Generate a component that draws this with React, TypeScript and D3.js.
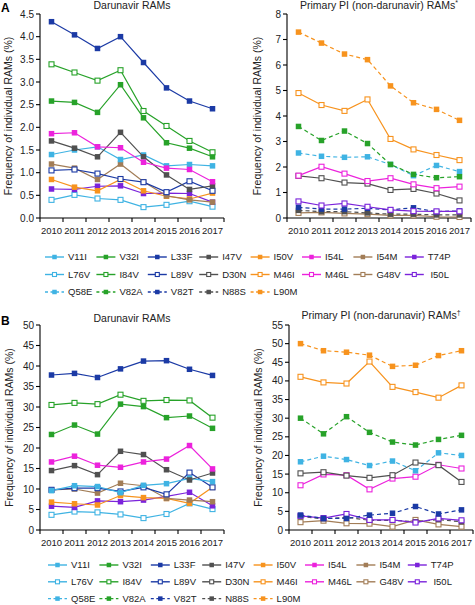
import React from 'react';
import * as d3 from 'd3';

const years = ['2010', '2011', '2012', '2013', '2014', '2015', '2016', '2017'];

// Panel A – Darunavir RAMs
const A_V11I = [1.40, 1.50, 1.57, 1.29, 1.39, 1.15, 1.18, 1.15];
const A_V32I = [2.58, 2.55, 2.33, 2.94, 2.21, 1.66, 1.54, 1.35];
const A_L33F = [4.33, 4.04, 3.74, 4.00, 3.43, 2.87, 2.58, 2.41];
const A_I47V = [1.70, 1.54, 1.35, 1.89, 1.35, 0.95, 0.63, 0.71];
const A_I50V = [0.85, 0.68, 0.60, 0.85, 0.60, 0.48, 0.42, 0.55];
const A_I54L = [1.86, 1.88, 1.57, 1.55, 1.23, 1.10, 1.07, 0.80];
const A_I54M = [1.19, 1.10, 0.85, 1.19, 0.80, 0.49, 0.40, 0.35];
const A_T74P = [0.64, 0.63, 0.70, 0.71, 0.54, 0.55, 0.54, 0.35];
const A_L76V = [0.40, 0.51, 0.43, 0.40, 0.24, 0.29, 0.37, 0.25];
const A_I84V = [3.39, 3.21, 3.03, 3.26, 2.36, 2.03, 1.70, 1.45];
const A_L89V = [1.05, 1.07, 0.98, 0.86, 0.79, 0.57, 0.81, 0.60];

// Panel A – Primary PI (non-darunavir) RAMs
const A_D30N = [1.65, 1.56, 1.39, 1.35, 1.10, 1.14, 0.96, 0.69];
const A_M46I = [4.90, 4.43, 4.20, 4.65, 3.10, 2.69, 2.47, 2.27];
const A_M46L = [1.66, 2.01, 1.74, 1.45, 1.56, 1.32, 1.17, 1.23];
const A_G48V = [0.20, 0.22, 0.18, 0.15, 0.10, 0.10, 0.05, 0.04];
const A_I50L = [0.65, 0.49, 0.57, 0.44, 0.32, 0.27, 0.26, 0.26];
const A_Q58E = [2.55, 2.42, 2.38, 2.40, 2.10, 1.66, 2.06, 1.82];
const A_V82A = [3.59, 3.04, 3.41, 2.92, 2.10, 1.71, 1.58, 1.62];
const A_V82T = [0.42, 0.35, 0.35, 0.38, 0.32, 0.40, 0.25, 0.28];
const A_N88S = [0.30, 0.25, 0.25, 0.20, 0.15, 0.15, 0.12, 0.12];
const A_L90M = [7.29, 6.86, 6.43, 6.21, 5.18, 4.52, 4.26, 3.83];

// Panel B – Darunavir RAMs
const B_V11I = [9.6, 10.8, 10.6, 9.1, 10.9, 11.3, 12.6, 11.8];
const B_V32I = [23.3, 25.6, 23.4, 30.7, 30.1, 27.4, 27.8, 24.8];
const B_L33F = [37.8, 38.2, 37.2, 39.3, 41.2, 41.3, 39.2, 37.7];
const B_I47V = [14.5, 15.7, 13.5, 19.2, 18.4, 14.7, 12.2, 13.9];
const B_I50V = [6.8, 6.4, 6.1, 8.4, 7.9, 7.7, 6.5, 10.4];
const B_I54L = [16.6, 18.0, 15.8, 15.3, 16.6, 17.3, 20.6, 14.9];
const B_I54M = [9.8, 10.0, 9.0, 11.4, 10.8, 7.7, 7.3, 6.9];
const B_T74P = [5.8, 5.5, 7.1, 6.9, 7.3, 8.2, 9.2, 5.9];
const B_L76V = [3.7, 4.5, 4.3, 3.8, 2.9, 3.9, 6.5, 5.1];
const B_I84V = [30.5, 31.0, 30.7, 33.0, 31.5, 31.7, 31.6, 27.4];
const B_L89V = [9.8, 10.2, 10.2, 9.4, 10.4, 8.7, 14.0, 10.4];

// Panel B – Primary PI (non-darunavir) RAMs
const B_D30N = [15.2, 15.5, 14.6, 14.0, 14.7, 18.1, 17.4, 12.9];
const B_M46I = [41.1, 39.6, 39.3, 45.2, 38.4, 37.0, 35.5, 38.8];
const B_M46L = [12.0, 14.9, 14.7, 10.9, 13.8, 14.3, 17.5, 16.5];
const B_G48V = [2.1, 2.5, 1.8, 1.7, 0.9, 2.7, 1.5, 0.9];
const B_I50L = [3.8, 3.2, 4.3, 2.7, 2.7, 2.0, 3.1, 2.6];
const B_Q58E = [18.3, 19.8, 18.9, 17.3, 18.5, 15.9, 20.7, 20.0];
const B_V82A = [30.0, 25.8, 30.4, 26.2, 23.6, 22.8, 24.3, 25.4];
const B_V82T = [4.0, 3.1, 3.1, 4.0, 4.5, 6.3, 4.3, 5.4];
const B_N88S = [3.6, 3.0, 3.4, 2.6, 2.6, 2.2, 2.8, 2.2];
const B_L90M = [50.0, 48.1, 47.7, 46.9, 43.9, 44.2, 46.8, 48.1];

const legendRow1 = ['V11I', 'V32I', 'L33F', 'I47V', 'I50V', 'I54L', 'I54M', 'T74P'];
const legendRow2 = ['L76V', 'I84V', 'L89V', 'D30N', 'M46I', 'M46L', 'G48V', 'I50L'];
const legendRow3 = ['Q58E', 'V82A', 'V82T', 'N88S', 'L90M'];

const C = {
  lightblue: '#3fb3e3',
  green: '#27a229',
  darkblue: '#1b3aa5',
  gray: '#505050',
  orange: '#f7931e',
  magenta: '#ec22dc',
  tan: '#a27d57',
  purple: '#7b23db',
};

type Style = { color: string; open: boolean; dashed: boolean };
const STYLE: Record<string, Style> = {
  V11I: { color: C.lightblue, open: false, dashed: false },
  V32I: { color: C.green, open: false, dashed: false },
  L33F: { color: C.darkblue, open: false, dashed: false },
  I47V: { color: C.gray, open: false, dashed: false },
  I50V: { color: C.orange, open: false, dashed: false },
  I54L: { color: C.magenta, open: false, dashed: false },
  I54M: { color: C.tan, open: false, dashed: false },
  T74P: { color: C.purple, open: false, dashed: false },
  L76V: { color: C.lightblue, open: true, dashed: false },
  I84V: { color: C.green, open: true, dashed: false },
  L89V: { color: C.darkblue, open: true, dashed: false },
  D30N: { color: C.gray, open: true, dashed: false },
  M46I: { color: C.orange, open: true, dashed: false },
  M46L: { color: C.magenta, open: true, dashed: false },
  G48V: { color: C.tan, open: true, dashed: false },
  I50L: { color: C.purple, open: true, dashed: false },
  Q58E: { color: C.lightblue, open: false, dashed: true },
  V82A: { color: C.green, open: false, dashed: true },
  V82T: { color: C.darkblue, open: false, dashed: true },
  N88S: { color: C.gray, open: false, dashed: true },
  L90M: { color: C.orange, open: false, dashed: true },
};

const FONT = '"Liberation Sans", Arial, Helvetica, sans-serif';

type Series = { name: string; values: number[] };

type PanelProps = {
  x0: number;
  yTop: number;
  yBottom: number;
  yMax: number;
  yTicks: number[];
  yFmt: (v: number) => string;
  title: string;
  sup: string;
  titleY: number;
  labelX: number;
  series: Series[];
};

function Marker({ x, y, st, size }: { x: number; y: number; st: Style; size: number }) {
  if (st.open) {
    const s = size - 0.5;
    return (
      <rect x={x - s / 2} y={y - s / 2} width={s} height={s} fill="#fff" stroke={st.color} strokeWidth={1.1} />
    );
  }
  return <rect x={x - size / 2} y={y - size / 2} width={size} height={size} fill={st.color} />;
}

function Panel(p: PanelProps) {
  const xs = d3.scaleBand<string>().domain(years).range([p.x0, p.x0 + 184]).padding(0);
  const ys = d3.scaleLinear().domain([0, p.yMax]).range([p.yBottom, p.yTop]);
  const bw = xs.bandwidth();
  const line = d3
    .line<number>()
    .x((_, i) => (xs(years[i]) as number) + bw / 2)
    .y((v) => ys(v));
  const boundaries = d3.range(0, years.length + 1).map((i) => p.x0 + i * bw);
  const y0 = ys(0);
  const cx = p.x0 + 92;
  return (
    <g>
      <text x={cx} y={p.titleY} textAnchor="middle" fontSize={10.5} fontFamily={FONT} fill="#222">
        {p.title}
        <tspan fontSize={7} dy={-4}>{p.sup}</tspan>
      </text>
      <text
        transform={`translate(${p.labelX},${(p.yTop + p.yBottom) / 2}) rotate(-90)`}
        textAnchor="middle"
        fontSize={10.5}
        fontFamily={FONT}
        fill="#222"
      >
        Frequency of individual RAMs (%)
      </text>
      {/* y axis */}
      <line x1={p.x0} x2={p.x0} y1={p.yTop} y2={y0} stroke="#000" strokeWidth={1.1} />
      {p.yTicks.map((t) => (
        <g key={t}>
          <line x1={p.x0 - 4} x2={p.x0} y1={ys(t)} y2={ys(t)} stroke="#000" strokeWidth={1.1} />
          <text x={p.x0 - 6} y={ys(t) + 3.5} textAnchor="end" fontSize={10} fontFamily={FONT} fill="#222">
            {p.yFmt(t)}
          </text>
        </g>
      ))}
      {/* x axis */}
      <line x1={p.x0} x2={p.x0 + 184} y1={y0} y2={y0} stroke="#000" strokeWidth={1.1} />
      {boundaries.map((b, i) => (
        <line key={i} x1={b} x2={b} y1={y0} y2={y0 + 4} stroke="#000" strokeWidth={1.1} />
      ))}
      {years.map((yr) => (
        <text
          key={yr}
          x={(xs(yr) as number) + bw / 2}
          y={y0 + 16}
          textAnchor="middle"
          fontSize={9.5}
          fontFamily={FONT}
          fill="#222"
        >
          {yr}
        </text>
      ))}
      {p.series.map((s) => {
        const st = STYLE[s.name];
        return (
          <g key={s.name}>
            <path
              d={line(s.values) || ''}
              fill="none"
              stroke={st.color}
              strokeWidth={1.2}
              strokeDasharray={st.dashed ? '4,3' : undefined}
            />
            {s.values.map((v, i) => (
              <Marker key={i} x={(xs(years[i]) as number) + bw / 2} y={ys(v)} st={st} size={5.5} />
            ))}
          </g>
        );
      })}
    </g>
  );
}

function Legend({ x0, y0, rowGap, colGap }: { x0: number; y0: number; rowGap: number; colGap: number }) {
  const rows = [legendRow1, legendRow2, legendRow3];
  return (
    <g>
      {rows.map((row, r) =>
        row.map((name, c) => {
          const st = STYLE[name];
          const lx = x0 + c * colGap;
          const ly = y0 + r * rowGap;
          return (
            <g key={name}>
              <line
                x1={lx}
                x2={lx + 19}
                y1={ly}
                y2={ly}
                stroke={st.color}
                strokeWidth={1.4}
                strokeDasharray={st.dashed ? '3,2.5' : undefined}
              />
              <Marker x={lx + 9.5} y={ly} st={st} size={4.5} />
              <text x={lx + 23} y={ly + 3.4} fontSize={9.5} fontFamily={FONT} fill="#222">
                {name === 'I50L' ? '\u00a0I50L' : name}
              </text>
            </g>
          );
        })
      )}
    </g>
  );
}

const fmt1 = d3.format('.1f');
const fmt0 = d3.format('d');

export default function App() {
  const aLeft: Series[] = [
    { name: 'L76V', values: A_L76V },
    { name: 'T74P', values: A_T74P },
    { name: 'I50V', values: A_I50V },
    { name: 'I54M', values: A_I54M },
    { name: 'L89V', values: A_L89V },
    { name: 'V11I', values: A_V11I },
    { name: 'I47V', values: A_I47V },
    { name: 'I54L', values: A_I54L },
    { name: 'V32I', values: A_V32I },
    { name: 'I84V', values: A_I84V },
    { name: 'L33F', values: A_L33F },
  ];
  const aRight: Series[] = [
    { name: 'G48V', values: A_G48V },
    { name: 'N88S', values: A_N88S },
    { name: 'V82T', values: A_V82T },
    { name: 'I50L', values: A_I50L },
    { name: 'D30N', values: A_D30N },
    { name: 'M46L', values: A_M46L },
    { name: 'Q58E', values: A_Q58E },
    { name: 'V82A', values: A_V82A },
    { name: 'M46I', values: A_M46I },
    { name: 'L90M', values: A_L90M },
  ];
  const bLeft: Series[] = [
    { name: 'L76V', values: B_L76V },
    { name: 'T74P', values: B_T74P },
    { name: 'I50V', values: B_I50V },
    { name: 'I54M', values: B_I54M },
    { name: 'L89V', values: B_L89V },
    { name: 'V11I', values: B_V11I },
    { name: 'I47V', values: B_I47V },
    { name: 'I54L', values: B_I54L },
    { name: 'V32I', values: B_V32I },
    { name: 'I84V', values: B_I84V },
    { name: 'L33F', values: B_L33F },
  ];
  const bRight: Series[] = [
    { name: 'G48V', values: B_G48V },
    { name: 'N88S', values: B_N88S },
    { name: 'I50L', values: B_I50L },
    { name: 'V82T', values: B_V82T },
    { name: 'M46L', values: B_M46L },
    { name: 'D30N', values: B_D30N },
    { name: 'Q58E', values: B_Q58E },
    { name: 'V82A', values: B_V82A },
    { name: 'M46I', values: B_M46I },
    { name: 'L90M', values: B_L90M },
  ];
  return (
    <svg
      width={475}
      height={605}
      style={{ position: 'absolute', left: 0, top: 0, background: '#fff' }}
    >
      <rect width={475} height={605} fill="#fff" />
      <text x={1} y={12} fontSize={12} fontWeight="bold" fontFamily={FONT}>A</text>
      <text x={1} y={325} fontSize={12} fontWeight="bold" fontFamily={FONT}>B</text>
      <Panel
        x0={40} yTop={14} yBottom={218} yMax={4.5}
        yTicks={d3.range(0, 4.51, 0.5)} yFmt={fmt1}
        title="Darunavir RAMs" sup="" titleY={9} labelX={12} series={aLeft}
      />
      <Panel
        x0={287} yTop={14} yBottom={218} yMax={8}
        yTicks={d3.range(0, 8.01, 1)} yFmt={fmt0}
        title="Primary PI (non-darunavir) RAMs" sup="*" titleY={9} labelX={261} series={aRight}
      />
      <Legend x0={45} y0={257} rowGap={17.5} colGap={51.4} />
      <Panel
        x0={40} yTop={325} yBottom={530} yMax={50}
        yTicks={d3.range(0, 50.01, 5)} yFmt={fmt0}
        title="Darunavir RAMs" sup="" titleY={322} labelX={13} series={bLeft}
      />
      <Panel
        x0={289} yTop={325} yBottom={530} yMax={55}
        yTicks={d3.range(0, 55.01, 5)} yFmt={fmt0}
        title="Primary PI (non-darunavir) RAMs" sup={'\u2020'} titleY={319} labelX={262} series={bRight}
      />
      <Legend x0={48} y0={565} rowGap={16.8} colGap={51.4} />
    </svg>
  );
}
